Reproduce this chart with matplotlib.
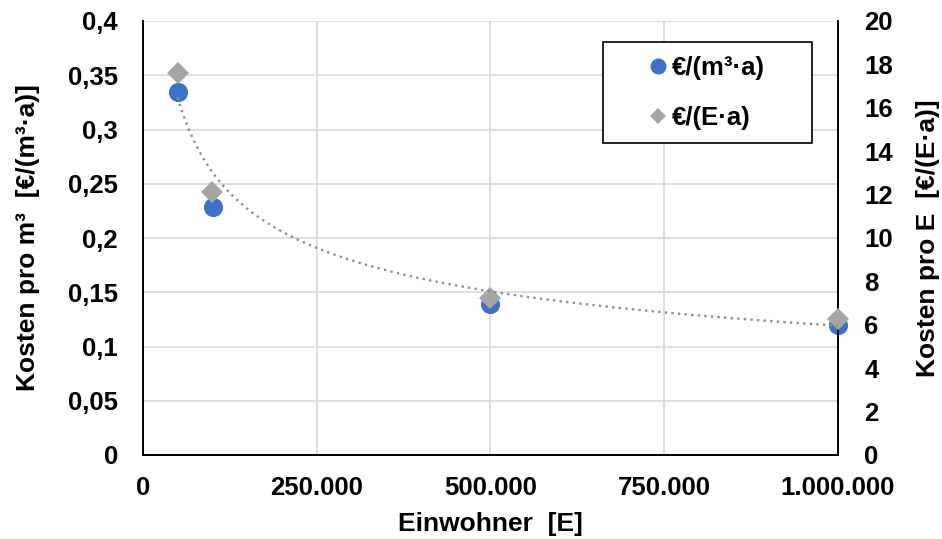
import numpy as np
import matplotlib
matplotlib.use("Agg")
import matplotlib.pyplot as plt
from matplotlib.ticker import FuncFormatter
from matplotlib.lines import Line2D
from matplotlib.patches import Rectangle

plt.rcParams['font.family'] = ['Liberation Sans', 'DejaVu Sans']
plt.rcParams['font.weight'] = 'bold'

# data
einwohner = [50000, 100000, 500000, 1000000]
kosten_m3 = [0.335, 0.229, 0.139, 0.120]      # €/(m³·a), left axis
kosten_E = [17.6, 12.1, 7.25, 6.25]          # €/(E·a), right axis
x_ticks = [0, 250000, 500000, 750000, 1000000]
left_ticks = [0, 0.05, 0.1, 0.15, 0.2, 0.25, 0.3, 0.35, 0.4]
right_ticks = [0, 2, 4, 6, 8, 10, 12, 14, 16, 18, 20]

blue = '#3F72C6'
grey = '#A5A5A5'
fs = 18.5
lfs = 19

W, H = 942, 539
L, R, T, B = 143, 838, 21, 455

fig = plt.figure(figsize=(W/100, H/100), dpi=100)
ax = fig.add_axes([L/W, 1-B/H, (R-L)/W, (B-T)/H])
ax2 = ax.twinx()

ax.set_xlim(0, 1000000)
ax.set_ylim(0, 0.4)
ax2.set_ylim(0, 20)
ax.set_xticks(x_ticks)
ax.set_yticks(left_ticks)
ax2.set_yticks(right_ticks)

def de_num(v, p=None):
    return ('%g' % v).replace('.', ',')

def de_thousands(v, p=None):
    return f"{int(round(v)):,}".replace(',', '.')

ax.xaxis.set_major_formatter(FuncFormatter(de_thousands))
ax.yaxis.set_major_formatter(FuncFormatter(de_num))
ax2.yaxis.set_major_formatter(FuncFormatter(lambda v, p: '%d' % v))

ax.grid(True, color='#D9D9D9', linewidth=1.2)
ax.set_axisbelow(True)
for a in (ax, ax2):
    a.tick_params(length=0, labelsize=fs)
    a.spines['top'].set_visible(False)
    for s in ('left', 'right', 'bottom'):
        a.spines[s].set_color('black')
        a.spines[s].set_linewidth(1.2)
ax.tick_params(axis='y', pad=18)
ax.tick_params(axis='x', pad=15)
ax2.tick_params(axis='y', pad=19)

ax.plot(einwohner, kosten_m3, linestyle='none', marker='o', markersize=13.8,
        color=blue, markeredgewidth=0, zorder=3, clip_on=False)
ax2.plot(einwohner, kosten_E, linestyle='none', marker='D', markersize=11.5,
         color=grey, markeredgewidth=0, zorder=4, clip_on=False)

# power trendline fitted to the €/(E·a) series
xs = np.array(einwohner, dtype=float)
b, lna = np.polyfit(np.log(xs), np.log(np.array(kosten_E)), 1)
xt = np.linspace(xs.min(), xs.max(), 300)
yt = np.exp(lna) * xt ** b
ax2.plot(xt, yt, linestyle=(0, (1, 1.8)), color='#8E8E8E', linewidth=1.7, zorder=5)

ax.set_xlabel('Einwohner  [E]', fontsize=lfs, fontweight='bold', va='center')
ax.xaxis.set_label_coords(0.5, (B-524)/(B-T))
ax.set_ylabel('Kosten pro m³  [€/(m³·a)]', fontsize=lfs, fontweight='bold', va='center', ha='center')
ax.yaxis.set_label_coords((28-L)/(R-L), 0.5)
ax2.set_ylabel('Kosten pro E  [€/(E·a)]', fontsize=lfs, fontweight='bold', va='center', ha='center')
ax2.yaxis.set_label_coords((928-L)/(R-L), 0.5)

# legend box
fig.patches.append(Rectangle((603/W, 1-143/H), (812-603)/W, (143-42)/H,
                             transform=fig.transFigure, facecolor='white',
                             edgecolor='black', linewidth=1.2, zorder=10))
handles = [Line2D([], [], linestyle='none', marker='o', markersize=11.5, color=blue, markeredgewidth=0),
           Line2D([], [], linestyle='none', marker='D', markersize=8, color=grey, markeredgewidth=0)]
leg = fig.legend(handles, ['€/(m³·a)', '€/(E·a)'], loc='center left',
                 bbox_to_anchor=(645/W, 1-93/H), bbox_transform=fig.transFigure,
                 fontsize=fs, frameon=False, handletextpad=0.05, borderpad=0,
                 labelspacing=1.0, handlelength=1.0, borderaxespad=0)
leg.set_zorder(11)

fig.savefig('out.png', dpi=100)
